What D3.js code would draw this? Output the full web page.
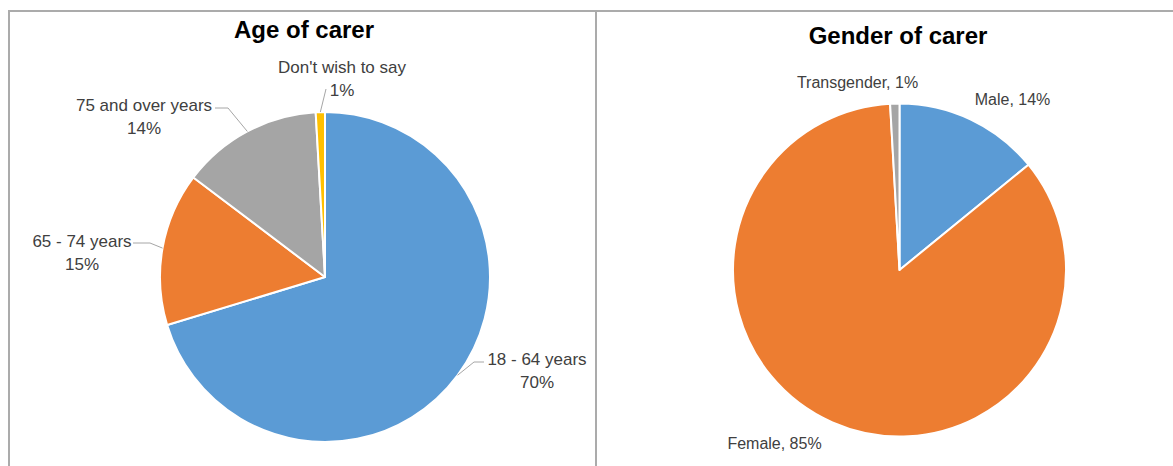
<!DOCTYPE html>
<html>
<head>
<meta charset="utf-8">
<script src="https://cdn.jsdelivr.net/npm/d3@7"></script>
<style>
  html, body { margin: 0; padding: 0; background: #fff; }
  svg { display: block; }
  text { font-family: "Liberation Sans", Arial, sans-serif; }
</style>
</head>
<body>
<svg id="chart" width="1173" height="466"></svg>
<script>
// ---- Data ----
const ageCategories = ["18 - 64 years", "65 - 74 years", "75 and over years", "Don't wish to say"];
const ageValues = [70.3, 15.0, 13.8, 0.9];
const ageColors = ["#5B9BD5", "#ED7D31", "#A5A5A5", "#FFC000"];

const genderCategories = ["Male", "Female", "Transgender"];
const genderValues = [14.1, 85.0, 0.9];
const genderColors = ["#5B9BD5", "#ED7D31", "#A5A5A5"];

const titles = ["Age of carer", "Gender of carer"];

// ---- Drawing ----
const svg = d3.select("#chart");
const border = "#ababab";

// panel frames
svg.append("line").attr("x1", 8).attr("x2", 1173).attr("y1", 11).attr("y2", 11)
  .attr("stroke", border).attr("stroke-width", 2);
svg.append("line").attr("x1", 9).attr("x2", 9).attr("y1", 10).attr("y2", 466)
  .attr("stroke", border).attr("stroke-width", 2);
svg.append("line").attr("x1", 596).attr("x2", 596).attr("y1", 10).attr("y2", 466)
  .attr("stroke", border).attr("stroke-width", 2);

function pct(v, total) { return Math.round(v / total * 100) + "%"; }

function drawPie(cfg) {
  const total = d3.sum(cfg.values);
  const data = cfg.categories.map((c, i) => ({ name: c, value: cfg.values[i], color: cfg.colors[i], i }));
  const pie = d3.pie().value(d => d.value).sort(null).startAngle(0).endAngle(2 * Math.PI);
  const arcs = pie(data);
  const arc = d3.arc().innerRadius(0).outerRadius(cfg.r);
  const edge = d3.arc().innerRadius(cfg.r).outerRadius(cfg.r);
  const g = svg.append("g").attr("transform", `translate(${cfg.cx},${cfg.cy})`);

  g.selectAll("path.slice").data(arcs).join("path")
    .attr("class", "slice")
    .attr("d", arc)
    .attr("fill", d => d.data.color)
    .attr("stroke", "#fff")
    .attr("stroke-width", 2)
    .attr("stroke-linejoin", "round");

  // title
  svg.append("text")
    .attr("x", cfg.titleX).attr("y", cfg.titleY)
    .attr("text-anchor", "middle")
    .attr("font-size", 24).attr("font-weight", "bold").attr("fill", "#000")
    .text(cfg.title);

  // labels
  arcs.forEach(a => {
    const L = cfg.labels[a.data.i];
    const txt = g.append("text")
      .attr("text-anchor", "middle")
      .attr("font-size", cfg.fontSize)
      .attr("fill", "#404040");
    if (cfg.twoLine) {
      txt.append("tspan").attr("x", L.dx).attr("y", L.dy).text(a.data.name);
      txt.append("tspan").attr("x", L.dx).attr("y", L.dy + 23).text(pct(a.data.value, total));
    } else {
      txt.attr("x", L.dx).attr("y", L.dy).text(a.data.name + ", " + pct(a.data.value, total));
    }
    if (L.leader) {
      const p0 = edge.centroid(a);
      const pts = [p0].concat(L.leader);
      g.append("path")
        .attr("d", d3.line()(pts))
        .attr("fill", "none")
        .attr("stroke", "#a6a6a6")
        .attr("stroke-width", 1);
    }
  });
}

drawPie({
  title: titles[0], titleX: 304, titleY: 38,
  categories: ageCategories, values: ageValues, colors: ageColors,
  cx: 325, cy: 277, r: 165, fontSize: 17, twoLine: true,
  labels: [
    { dx: 212, dy: 88, leader: [[149, 85], [159, 85]] },
    { dx: -243, dy: -30, leader: [[-175, -34], [-192, -34]] },
    { dx: -181, dy: -166, leader: [[-97, -169], [-110, -169]] },
    { dx: 17, dy: -204, leader: [[1, -188]] }
  ]
});

drawPie({
  title: titles[1], titleX: 898, titleY: 44,
  categories: genderCategories, values: genderValues, colors: genderColors,
  cx: 899.5, cy: 270, r: 166.5, fontSize: 16, twoLine: false,
  labels: [
    { dx: 113, dy: -165 },
    { dx: -125, dy: 179 },
    { dx: -42, dy: -182 }
  ]
});
</script>
</body>
</html>
